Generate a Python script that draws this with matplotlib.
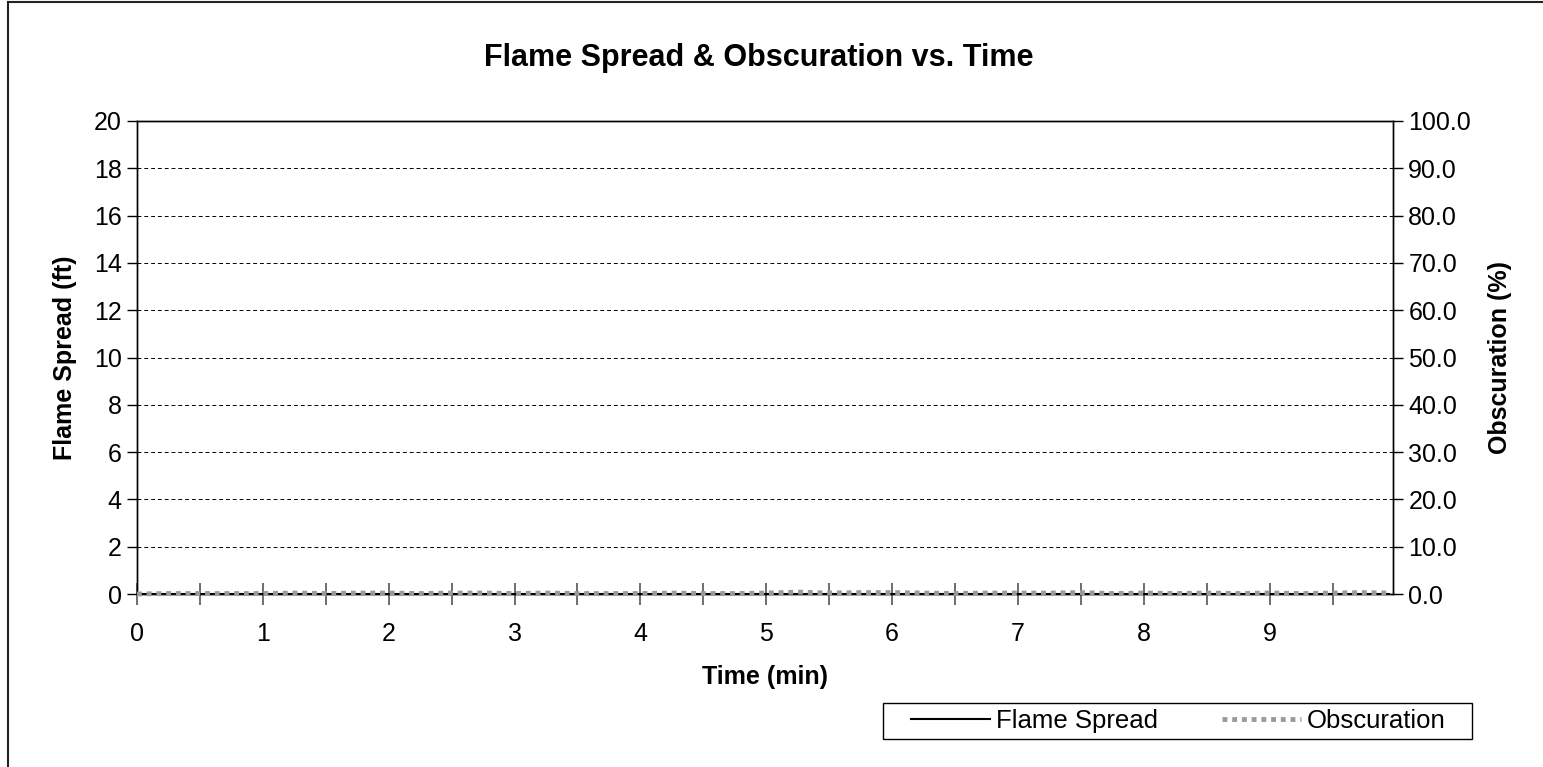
import numpy as np
import matplotlib.pyplot as plt
from matplotlib.lines import Line2D
from matplotlib.patches import Rectangle

plt.rcParams['font.family'] = ['Liberation Sans', 'DejaVu Sans']

# datos (tiempo en min)
tiempo = [0.00, 0.25, 0.50, 0.75, 1.00, 1.25, 1.50, 1.75, 2.00, 2.25,
          2.50, 2.75, 3.00, 3.25, 3.50, 3.75, 4.00, 4.25, 4.50, 4.75,
          5.00, 5.25, 5.50, 5.75, 6.00, 6.25, 6.50, 6.75, 7.00, 7.25,
          7.50, 7.75, 8.00, 8.25, 8.50, 8.75, 9.00, 9.25, 9.50, 9.75,
          9.95]
flame_spread = [0.0] * len(tiempo)
obscuration = [0.0, 0.1, 0.1, 0.1, 0.1, 0.2, 0.1, 0.2, 0.2, 0.1,
               0.2, 0.2, 0.1, 0.2, 0.1, 0.1, 0.1, 0.2, 0.1, 0.1,
               0.2, 0.4, 0.2, 0.3, 0.3, 0.2, 0.1, 0.2, 0.2, 0.2,
               0.3, 0.1, 0.2, 0.1, 0.2, 0.1, 0.2, 0.1, 0.2, 0.3,
               0.2]

W, H = 1543, 767
fig = plt.figure(figsize=(W / 100, H / 100), dpi=100)
ax = fig.add_axes([137 / W, 1 - 594 / H, (1393 - 137) / W, (594 - 121) / H])
ax2 = ax.twinx()

# borde exterior del grafico (solo izquierda y arriba quedan visibles)
fig.add_artist(Line2D([8 / W, 8 / W], [0.0, 1 - 2 / H], transform=fig.transFigure,
                      color='#222222', linewidth=1.5))
fig.add_artist(Line2D([8 / W, 1.0], [1 - 2 / H, 1 - 2 / H], transform=fig.transFigure,
                      color='#222222', linewidth=1.5))

ax.plot(tiempo, flame_spread, color='black', linewidth=1.5, label='Flame Spread')
ax2.plot(tiempo, obscuration, color='#9a9a9a', linestyle=(0, (1, 1)), linewidth=3.5,
         label='Obscuration', clip_on=False, zorder=5)

ax.set_xlim(0, 9.98)
ax.set_ylim(0, 20)
ax2.set_ylim(0, 100)

ax.set_xticks(np.arange(0, 10, 0.5))
ax.set_xticklabels([str(int(t)) if t == int(t) else '' for t in np.arange(0, 10, 0.5)])
ax.set_yticks(np.arange(0, 21, 2))
ax2.set_yticks(np.arange(0, 101, 10))
ax2.set_yticklabels([f'{v:.1f}' for v in np.arange(0, 101, 10)])

ax.tick_params(axis='x', direction='inout', length=16, width=1.2, color='#555555',
               labelsize=18, pad=12)
ax.tick_params(axis='y', direction='out', length=7, width=1, labelsize=18, pad=4)
ax2.tick_params(axis='y', direction='out', length=7, width=1, labelsize=18, pad=4)

for a in (ax, ax2):
    for s in a.spines.values():
        s.set_color('black')
        s.set_linewidth(1)

ax.grid(axis='y', color='black', linestyle=(0, (4, 3)), linewidth=0.7)
ax.set_axisbelow(True)

ax.set_xlabel('Time (min)', fontsize=18, fontweight='bold', labelpad=14)
ax.set_ylabel('Flame Spread (ft)', fontsize=18, fontweight='bold', labelpad=12)
ax2.set_ylabel('Obscuration (%)', fontsize=18, fontweight='bold', labelpad=12)

fig.text(0.492, 1 - 58 / H, 'Flame Spread & Obscuration vs. Time', ha='center',
         va='center', fontsize=22, fontweight='bold')

# leyenda sin marco propio + rectangulo dibujado aparte
h1, l1 = ax.get_legend_handles_labels()
h2, l2 = ax2.get_legend_handles_labels()
leg = fig.legend(h1 + h2, l1 + l2, loc='center', bbox_to_anchor=(1178 / W, 1 - 721 / H),
                 ncol=2, fontsize=18.5, frameon=False, handlelength=3.1,
                 columnspacing=2.5, handletextpad=0.2, borderpad=0, borderaxespad=0)
fig.add_artist(Rectangle((883 / W, 1 - 739 / H), (1472 - 883) / W, 36 / H,
                         transform=fig.transFigure, fill=False,
                         edgecolor='black', linewidth=1))

fig.savefig('out.png', dpi=100)
